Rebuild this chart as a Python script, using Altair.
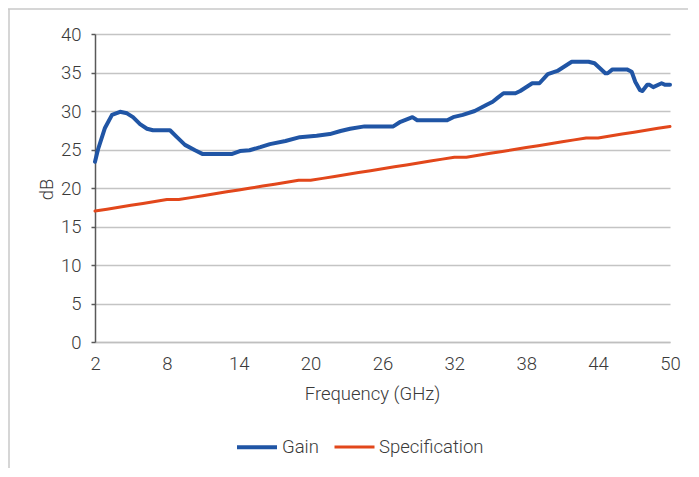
import altair as alt
import pandas as pd

gain_freq = [2.0, 2.25, 2.83, 3.42, 4.09, 4.67, 5.17, 5.76, 6.34, 6.84, 8.26, 8.84, 9.51, 10.35, 11.0,
             13.4, 14.1, 14.9, 15.8, 16.6, 17.9, 19.1, 20.5, 21.6, 22.5, 23.3, 24.5, 26.9, 27.5, 28.5,
             28.9, 31.4, 31.9, 32.7, 33.7, 34.7, 35.2, 35.6, 36.1, 37.1, 37.5, 38.5, 39.1, 39.8, 40.6,
             41.8, 43.2, 43.7, 44.6, 44.8, 45.2, 46.4, 46.8, 47.1, 47.5, 47.7, 48.1, 48.3, 48.6, 49.3,
             49.6, 50.0]
gain_db = [23.4, 25.0, 27.8, 29.5, 29.9, 29.7, 29.2, 28.3, 27.7, 27.5, 27.5, 26.6, 25.6, 24.9, 24.4,
           24.4, 24.8, 24.9, 25.3, 25.7, 26.1, 26.6, 26.8, 27.0, 27.4, 27.7, 28.0, 28.0, 28.6, 29.2,
           28.8, 28.8, 29.2, 29.5, 30.0, 30.8, 31.2, 31.7, 32.3, 32.3, 32.6, 33.6, 33.6, 34.8, 35.2,
           36.4, 36.4, 36.2, 34.9, 34.9, 35.4, 35.4, 35.1, 33.8, 32.7, 32.6, 33.4, 33.4, 33.1, 33.6,
           33.4, 33.4]

spec_freq = list(range(2, 51))
spec_db = [17.0, 17.25, 17.5, 17.75, 18.0, 18.25, 18.5, 18.5, 18.75, 19.0, 19.25, 19.5, 19.75, 20.0,
           20.25, 20.5, 20.75, 21.0, 21.0, 21.25, 21.5, 21.75, 22.0, 22.25, 22.5, 22.75, 23.0, 23.25,
           23.5, 23.75, 24.0, 24.0, 24.25, 24.5, 24.75, 25.0, 25.25, 25.5, 25.75, 26.0, 26.25, 26.5,
           26.5, 26.75, 27.0, 27.25, 27.5, 27.75, 28.0]

series_names = ["Gain", "Specification"]
series_colors = ["#2055a5", "#e2471b"]
x_ticks = [2, 8, 14, 20, 26, 32, 38, 44, 50]
y_ticks = [0, 5, 10, 15, 20, 25, 30, 35, 40]

df = pd.concat([
    pd.DataFrame({"f": gain_freq, "db": gain_db, "series": "Gain"}),
    pd.DataFrame({"f": spec_freq, "db": spec_db, "series": "Specification"}),
])

FONT = "Roboto"
TXT = "#3a3a3a"
FS = 18.5

lines = alt.Chart(df).mark_line(strokeJoin="round", strokeCap="round").encode(
    x=alt.X("f:Q", scale=alt.Scale(domain=[2, 50], nice=False, zero=False),
            axis=alt.Axis(values=x_ticks, title="Frequency (GHz)", grid=False, ticks=False,
                          domainColor="#bfbfbf", domainWidth=1.5, labelPadding=12, labelFlush=False,
                          titleY=51, titleX=277, titleBaseline="middle")),
    y=alt.Y("db:Q", scale=alt.Scale(domain=[0, 40], nice=False),
            axis=alt.Axis(values=y_ticks, title="dB", grid=True, gridColor="#c4c4c4", gridWidth=1.5,
                          domainColor="#595959", domainWidth=1.5, tickColor="#595959", tickWidth=1.5,
                          tickSize=4, labelPadding=10, titleX=-49, titleY=155, titleBaseline="middle")),
    color=alt.Color("series:N", scale=alt.Scale(domain=series_names, range=series_colors),
                    legend=alt.Legend(title=None, orient="none", legendX=140, legendY=391,
                                      direction="horizontal", symbolType="stroke", symbolSize=1600,
                                      symbolStrokeWidth=3.5, labelOffset=3, columnPadding=9,
                                      labelFontSize=FS, labelFont=FONT, labelFontWeight=300,
                                      labelColor=TXT)),
    strokeWidth=alt.StrokeWidth("series:N", scale=alt.Scale(domain=series_names, range=[4, 3]),
                                legend=None),
    detail="series:N",
)

one = pd.DataFrame({"a": [0]})
border_top = alt.Chart(one).mark_rule(color="#c8c8c8", strokeWidth=1.5).encode(
    x=alt.value(-87), x2=alt.value(600), y=alt.value(-25))
border_left = alt.Chart(one).mark_rule(color="#c8c8c8", strokeWidth=1.5).encode(
    x=alt.value(-86), y=alt.value(-25), y2=alt.value(440))

chart = alt.layer(border_top, border_left, lines).properties(
    width=575, height=308,
    autosize=alt.AutoSizeParams(type="none"),
    padding={"left": 87, "top": 26, "right": 18, "bottom": 126},
).configure_view(strokeWidth=0).configure_axis(
    labelFont=FONT, labelFontSize=FS, labelFontWeight=300, labelColor=TXT,
    titleFont=FONT, titleFontSize=FS, titleFontWeight=300, titleColor=TXT,
)

chart.save("out.html", embed_options={"renderer": "svg", "actions": False})
